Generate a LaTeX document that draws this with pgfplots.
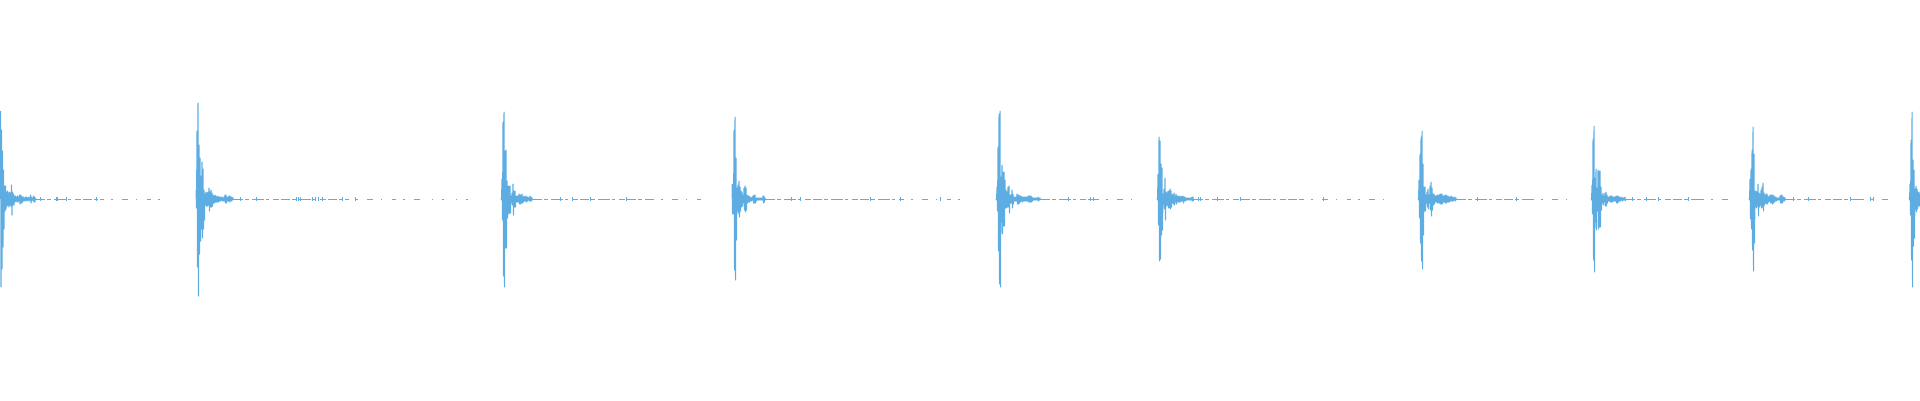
\documentclass[border=0pt]{standalone}
\usepackage{pgfplots}
\pgfplotsset{compat=1.18}
\definecolor{wave}{RGB}{93,173,226}
\begin{document}
\begin{tikzpicture}
\begin{axis}[
  x=1pt, y=1pt,
  xmin=0, xmax=1920, ymin=-201, ymax=199,
  hide axis,
  w/.style={color=wave, line width=1pt, line join=round, mark=none},
  dense/.style={w, dash pattern=on 9pt off 2pt on 4pt off 3pt on 12pt off 2pt on 3pt off 4pt on 6pt off 2pt},
  sparse/.style={w, dash pattern=on 4pt off 7pt on 2pt off 9pt on 6pt off 8pt on 1pt off 10pt},
  dots/.style={w, dash pattern=on 2pt off 12pt on 1pt off 9pt},
]
\path (axis cs:0,-201) rectangle (axis cs:1920,199);
% bursts
\addplot[w] coordinates {(0.5,88)(1,-88)(1.5,69)(2,-70)(2.5,48)(3,-48)(3.5,29)(4,-30)(4.5,13)(5,-12)(5.5,13)(6,-10)(6.5,7)(7,-7)(7.5,8)(8,-6)(8.5,6)(9,-8)(9.5,7)(10,-6)(10.5,6)(11,-7)(11.5,14)(12,-16)(12.5,7)(13,-6)(13.5,5)(14,-6)(14.5,3)(15,-3)(15.5,3)(16,-2)(16.5,2)(17,-3)(17.5,3)(18,-3)(18.5,2)(19,-2)(19.5,4)(20,-5)(20.5,4)(21,-4)(21.5,3)(22,-4)(22.5,2)(23,-2)(23.5,2)(24,-2)(24.5,1)(25,-2)(25.5,2)(26,-1)(26.5,2)(27,-2)(27.5,1)(28,-1)(28.5,2)(29,-2)(29.5,1)(30,-1)(30.5,4)(31,-4)(31.5,2)(32,-2)(32.5,1)(33,-1)(33.5,3)(34,-3)(34.5,2)(35,-3)(35.5,1)(36,-1)};
\addplot[w] coordinates {(196,9)(196.5,-9)(197,68)(197.5,-68)(198,96)(198.5,-97)(199,54)(199.5,-55)(200,41)(200.5,-42)(201,23)(201.5,-30)(202,37)(202.5,-39)(203,30)(203.5,-30)(204,9)(204.5,-21)(205,5)(205.5,-5)(206,7)(206.5,-7)(207,6)(207.5,-7)(208,7)(208.5,-6)(209,11)(209.5,-12)(210,7)(210.5,-8)(211,9)(211.5,-8)(212,6)(212.5,-7)(213,4)(213.5,-4)(214,3)(214.5,-4)(215,4)(215.5,-3)(216,3)(216.5,-3)(217,2)(217.5,-3)(218,3)(218.5,-3)(219,2)(219.5,-2)(220,2)(220.5,-2)(221,2)(221.5,-1)(222,2)(222.5,-2)(223,1)(223.5,-2)(224,2)(224.5,-2)(225,4)(225.5,-4)(226,4)(226.5,-4)(227,2)(227.5,-2)(228,2)(228.5,-2)(229,3)(229.5,-3)(230,3)(230.5,-2)(231,2)(231.5,-2)(232,2)(232.5,-1)(233,1)(233.5,-1)};
\addplot[w] coordinates {(501,1)(501.5,-1)(502,20)(502.5,-21)(503,77)(503.5,-77)(504,87)(504.5,-88)(505,48)(505.5,-49)(506,49)(506.5,-49)(507,18)(507.5,-19)(508,13)(508.5,-15)(509,13)(509.5,-14)(510,13)(510.5,-14)(511,3)(511.5,-3)(512,6)(512.5,-6)(513,15)(513.5,-16)(514,8)(514.5,-8)(515,8)(515.5,-8)(516,3)(516.5,-3)(517,3)(517.5,-3)(518,3)(518.5,-3)(519,5)(519.5,-5)(520,4)(520.5,-5)(521,4)(521.5,-4)(522,5)(522.5,-4)(523,2)(523.5,-3)(524,3)(524.5,-2)(525,2)(525.5,-2)(526,3)(526.5,-3)(527,2)(527.5,-2)(528,2)(528.5,-1)(529,1)(529.5,-2)(530,3)(530.5,-2)(531,2)(531.5,-2)(532,1)(532.5,-1)};
\addplot[w] coordinates {(732,15)(732.5,-15)(733,15)(733.5,-15)(734,69)(734.5,-71)(735,82)(735.5,-81)(736,41)(736.5,-41)(737,11)(737.5,-11)(738,14)(738.5,-14)(739,18)(739.5,-18)(740,12)(740.5,-12)(741,8)(741.5,-8)(742,7)(742.5,-7)(743,4)(743.5,-4)(744,11)(744.5,-11)(745,13)(745.5,-13)(746,11)(746.5,-11)(747,4)(747.5,-4)(748,3)(748.5,-3)(749,3)(749.5,-3)(750,2)(750.5,-2)(751,1)(751.5,-2)(752,2)(752.5,-1)(753,3)(753.5,-4)(754,4)(754.5,-4)(755,4)(755.5,-4)(756,1)(756.5,-2)(757,1)(757.5,-1)(758,1)(758.5,-1)(759,1)(759.5,-1)(760,1)(760.5,-1)(761,1)(761.5,-1)(762,1)(762.5,-1)(763,3)(763.5,-4)(764,3)(764.5,-3)(765,1)(765.5,-1)};
\addplot[w] coordinates {(996,1)(996.5,-1)(997,12)(997.5,-12)(998,52)(998.5,-52)(999,85)(999.5,-85)(1000,88)(1000.5,-88)(1001,22)(1001.5,-23)(1002,34)(1002.5,-35)(1003,27)(1003.5,-27)(1004,27)(1004.5,-27)(1005,19)(1005.5,-9)(1006,9)(1006.5,-9)(1007,7)(1007.5,-8)(1008,12)(1008.5,-8)(1009,13)(1009.5,-14)(1010,4)(1010.5,-4)(1011,4)(1011.5,-4)(1012,9)(1012.5,-9)(1013,5)(1013.5,-5)(1014,2)(1014.5,-2)(1015,2)(1015.5,-2)(1016,2)(1016.5,-2)(1017,5)(1017.5,-5)(1018,4)(1018.5,-5)(1019,4)(1019.5,-4)(1020,3)(1020.5,-3)(1021,3)(1021.5,-2)(1022,2)(1022.5,-3)(1023,2)(1023.5,-2)(1024,2)(1024.5,-2)(1025,2)(1025.5,-2)(1026,2)(1026.5,-2)(1027,2)(1027.5,-2)(1028,3)(1028.5,-3)(1029,3)(1029.5,-3)(1030,3)(1030.5,-3)(1031,3)(1031.5,-3)(1032,2)(1032.5,-2)(1033,1)(1033.5,-1)(1034,1)(1034.5,-1)(1035,1)(1035.5,-1)(1036,1)(1036.5,-1)(1037,1)(1037.5,-1)(1038,2)(1038.5,-2)(1039,1)(1039.5,-1)(1040,1)(1040.5,-1)};
\addplot[w] coordinates {(1157,1)(1157.5,-1)(1158,25)(1158.5,-26)(1159,62)(1159.5,-62)(1160,58)(1160.5,-60)(1161,35)(1161.5,-36)(1162,31)(1162.5,-31)(1163,5)(1163.5,-5)(1164,10)(1164.5,-10)(1165,21)(1165.5,-21)(1166,7)(1166.5,-7)(1167,6)(1167.5,-6)(1168,8)(1168.5,-9)(1169,8)(1169.5,-9)(1170,10)(1170.5,-10)(1171,8)(1171.5,-8)(1172,4)(1172.5,-4)(1173,5)(1173.5,-5)(1174,6)(1174.5,-6)(1175,3)(1175.5,-3)(1176,5)(1176.5,-5)(1177,3)(1177.5,-3)(1178,3)(1178.5,-3)(1179,3)(1179.5,-3)(1180,2)(1180.5,-3)(1181,3)(1181.5,-2)(1182,2)(1182.5,-2)(1183,3)(1183.5,-4)(1184,2)(1184.5,-2)(1185,2)(1185.5,-2)(1186,1)(1186.5,-1)(1187,1)(1187.5,-1)(1188,1)(1188.5,-1)(1189,1)(1189.5,-1)(1190,1)(1190.5,-1)(1191,1)(1191.5,-1)(1192,2)(1192.5,-2)(1193,2)(1193.5,-2)};
\addplot[w] coordinates {(1418,1)(1418.5,-1)(1419,19)(1419.5,-19)(1420,45)(1420.5,-44)(1421,62)(1421.5,-62)(1422,68)(1422.5,-70)(1423,35)(1423.5,-36)(1424,12)(1424.5,-12)(1425,12)(1425.5,-12)(1426,4)(1426.5,-4)(1427,7)(1427.5,-8)(1428,10)(1428.5,-10)(1429,4)(1429.5,-4)(1430,13)(1430.5,-11)(1431,17)(1431.5,-17)(1432,11)(1432.5,-11)(1433,5)(1433.5,-6)(1434,5)(1434.5,-5)(1435,3)(1435.5,-3)(1436,3)(1436.5,-3)(1437,4)(1437.5,-4)(1438,4)(1438.5,-4)(1439,4)(1439.5,-4)(1440,5)(1440.5,-5)(1441,5)(1441.5,-5)(1442,5)(1442.5,-5)(1443,3)(1443.5,-3)(1444,3)(1444.5,-3)(1445,4)(1445.5,-4)(1446,4)(1446.5,-4)(1447,3)(1447.5,-3)(1448,3)(1448.5,-3)(1449,2)(1449.5,-3)(1450,2)(1450.5,-2)(1451,3)(1451.5,-2)(1452,2)(1452.5,-2)(1453,2)(1453.5,-2)(1454,1)(1454.5,-1)(1455,2)(1455.5,-2)(1456,1)(1456.5,-1)};
\addplot[w] coordinates {(1591,1)(1591.5,-1)(1592,14)(1592.5,-15)(1593,60)(1593.5,-61)(1594,73)(1594.5,-73)(1595,21)(1595.5,-23)(1596,30)(1596.5,-31)(1597,11)(1597.5,-12)(1598,29)(1598.5,-30)(1599,28)(1599.5,-28)(1600,28)(1600.5,-28)(1601,12)(1601.5,-11)(1602,4)(1602.5,-4)(1603,6)(1603.5,-6)(1604,3)(1604.5,-3)(1605,6)(1605.5,-7)(1606,7)(1606.5,-7)(1607,4)(1607.5,-4)(1608,2)(1608.5,-2)(1609,2)(1609.5,-2)(1610,3)(1610.5,-3)(1611,3)(1611.5,-3)(1612,3)(1612.5,-3)(1613,2)(1613.5,-2)(1614,2)(1614.5,-2)(1615,2)(1615.5,-2)(1616,3)(1616.5,-4)(1617,3)(1617.5,-4)(1618,3)(1618.5,-3)(1619,2)(1619.5,-2)(1620,2)(1620.5,-2)(1621,1)(1621.5,-1)(1622,2)(1622.5,-2)(1623,1)(1623.5,-1)(1624,1)(1624.5,-1)(1625,2)(1625.5,-2)};
\addplot[w] coordinates {(1749,1)(1749.5,-1)(1750,20)(1750.5,-20)(1751,30)(1751.5,-30)(1752,49)(1752.5,-51)(1753,72)(1753.5,-72)(1754,45)(1754.5,-44)(1755,8)(1755.5,-8)(1756,8)(1756.5,-9)(1757,7)(1757.5,-7)(1758,15)(1758.5,-17)(1759,6)(1759.5,-8)(1760,5)(1760.5,-6)(1761,9)(1761.5,-9)(1762,12)(1762.5,-8)(1763,16)(1763.5,-12)(1764,6)(1764.5,-6)(1765,4)(1765.5,-4)(1766,5)(1766.5,-5)(1767,5)(1767.5,-5)(1768,3)(1768.5,-3)(1769,2)(1769.5,-2)(1770,4)(1770.5,-4)(1771,4)(1771.5,-4)(1772,4)(1772.5,-5)(1773,4)(1773.5,-4)(1774,3)(1774.5,-3)(1775,2)(1775.5,-2)(1776,2)(1776.5,-2)(1777,1)(1777.5,-1)(1778,1)(1778.5,-1)(1779,1)(1779.5,-1)(1780,3)(1780.5,-4)(1781,4)(1781.5,-4)(1782,4)(1782.5,-4)(1783,2)(1783.5,-2)(1784,2)(1784.5,-2)(1785,1)(1785.5,-1)};
\addplot[w] coordinates {(1909,1)(1909.5,-1)(1910,15)(1910.5,-16)(1911,59)(1911.5,-61)(1912,87)(1912.5,-88)(1913,39)(1913.5,-47)(1914,29)(1914.5,-39)(1915,10)(1915.5,-10)(1916,13)(1916.5,-13)(1917,10)(1917.5,-10)(1918,7)(1918.5,-7)(1919,7)(1919.5,-7)(1920,5)};
% tails
\addplot[dense] coordinates {(36,0)(100,0)};
\addplot[sparse] coordinates {(100,0)(166,0)};
\addplot[dense] coordinates {(234,0)(345,0)};
\addplot[sparse] coordinates {(345,0)(418,0)};
\addplot[dots] coordinates {(418,0)(477,0)};
\addplot[dense] coordinates {(533,0)(650,0)};
\addplot[sparse] coordinates {(650,0)(708,0)};
\addplot[dense] coordinates {(766,0)(900,0)};
\addplot[sparse] coordinates {(900,0)(966,0)};
\addplot[dense] coordinates {(1041,0)(1095,0)};
\addplot[sparse] coordinates {(1095,0)(1133,0)};
\addplot[dense] coordinates {(1194,0)(1300,0)};
\addplot[sparse] coordinates {(1300,0)(1392,0)};
\addplot[dense] coordinates {(1457,0)(1530,0)};
\addplot[sparse] coordinates {(1530,0)(1571,0)};
\addplot[dense] coordinates {(1626,0)(1700,0)};
\addplot[sparse] coordinates {(1700,0)(1732,0)};
\addplot[dense] coordinates {(1786,0)(1860,0)};
\addplot[sparse] coordinates {(1860,0)(1894,0)};
% small blips in the tails
\addplot[wave, only marks, mark=|, mark size=2pt, mark options={line width=1pt, solid}] coordinates {(40,0)(56,0)(57,0)(66,0)(96,0)(240,0)(256,0)(296,0)(298,0)(300,0)(312,0)(315,0)(318,0)(322,0)(342,0)(355,0)(560,0)(572,0)(590,0)(626,0)(791,0)(800,0)(870,0)(900,0)(940,0)(1068,0)(1090,0)(1093,0)(1198,0)(1200,0)(1217,0)(1240,0)(1323,0)(1477,0)(1516,0)(1632,0)(1646,0)(1658,0)(1688,0)(1793,0)(1808,0)(1850,0)(1870,0)(1873,0)};
\end{axis}
\end{tikzpicture}
\end{document}
